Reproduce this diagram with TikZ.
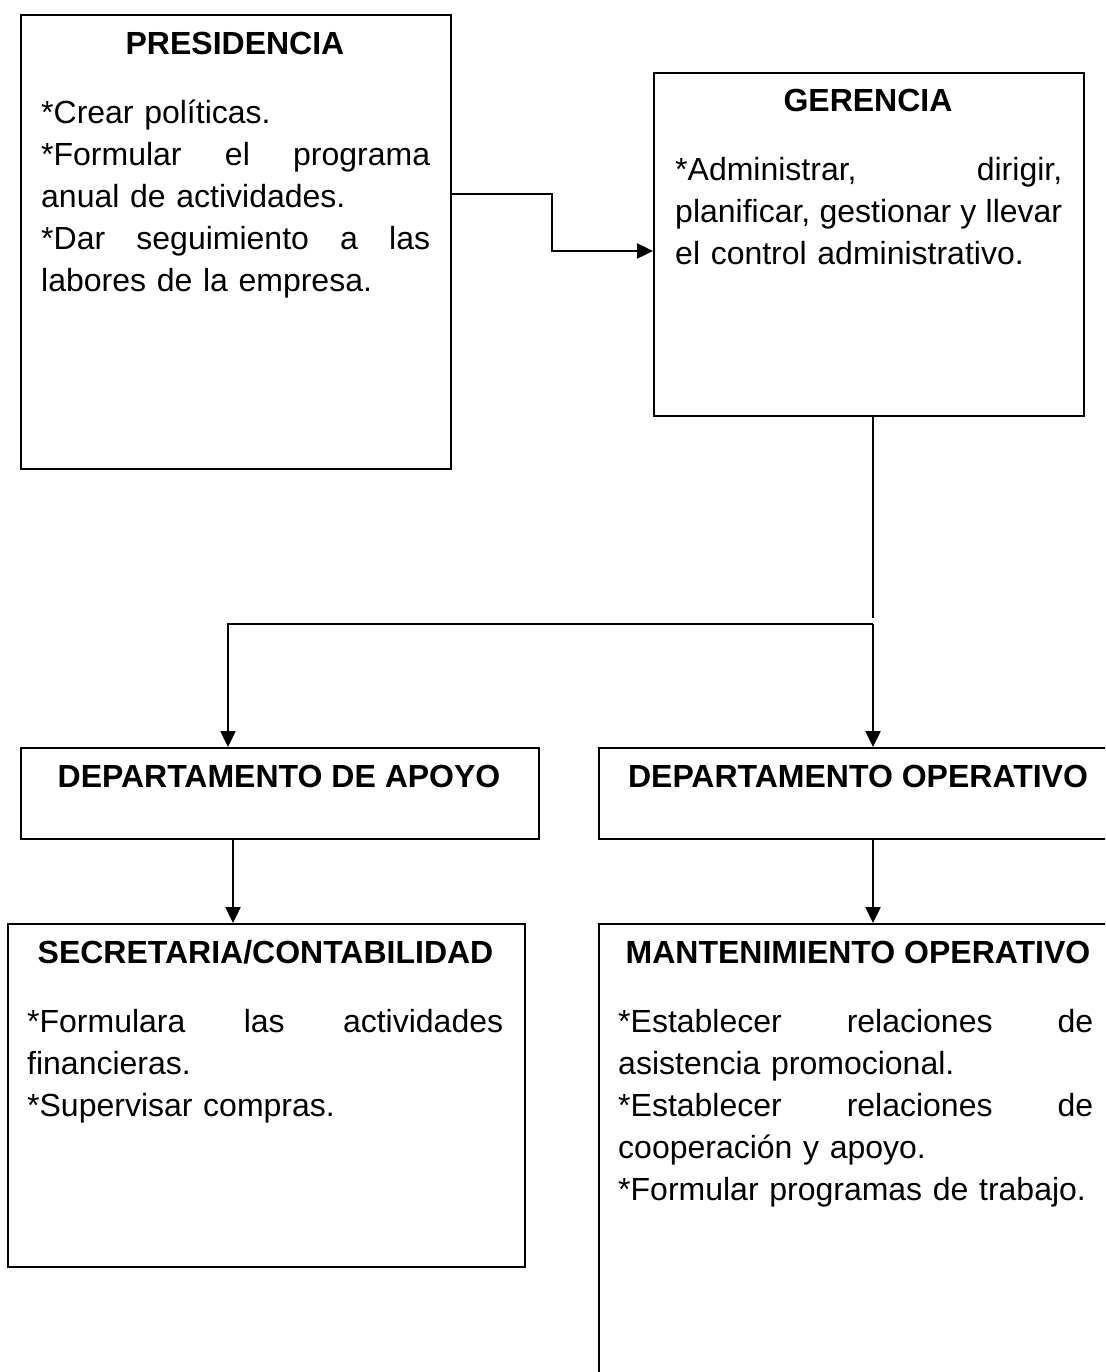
\documentclass[tikz,border=0pt]{standalone}
\usepackage{fontspec}
\setmainfont{Liberation Sans}
\usetikzlibrary{arrows.meta}
\newcommand{\jline}[1]{\leavevmode\hbox to \hsize{\spaceskip=0.278em plus 20em\relax #1}}
\begin{document}
\begin{tikzpicture}[x=1pt,y=-1pt,
  box/.style={draw, line width=2.1pt, rectangle, inner sep=0pt, anchor=north west},
  ttl/.style={font=\fontsize{32}{42}\selectfont\bfseries, anchor=base, inner sep=0pt},
  body/.style={font=\fontsize{32}{42}\selectfont, anchor=base west, inner sep=0pt, align=left},
  arr/.style={line width=2.4pt, -{Triangle[length=16pt,width=15pt]}},
]
\useasboundingbox (0,0) rectangle (1105,1372);
\clip (0,0) rectangle (1105,1372);

% boxes
\node[box, minimum width=430pt, minimum height=454pt] (pres) at (20,14) {};
\node[box, minimum width=430pt, minimum height=343pt] (ger) at (653,72) {};
\node[box, minimum width=518pt, minimum height=91pt] (apoyo) at (20,747) {};
\node[box, minimum width=520pt, minimum height=91pt] (oper) at (598,747) {};
\node[box, minimum width=517pt, minimum height=343pt] (sec) at (7,923) {};
\node[box, minimum width=520pt, minimum height=500pt] (mant) at (598,923) {};

% titles
\node[ttl] (prest) at (235,55) {PRESIDENCIA};
\node[ttl] (gert) at (868,112) {GERENCIA};
\node[ttl] (apoyot) at (279,787) {DEPARTAMENTO DE APOYO};
\node[ttl] (opert) at (858,787) {DEPARTAMENTO OPERATIVO};
\node[ttl] (sect) at (265.5,963) {SECRETARIA/CONTABILIDAD};
\node[ttl] (mantt) at (858,963) {MANTENIMIENTO OPERATIVO};

% bodies
\node[body, text width=389pt] (presb) at (41,124) {*Crear políticas.\\\relax
\jline{*Formular el programa}\\\relax
anual de actividades.\\\relax
\jline{*Dar seguimiento a las}\\\relax
labores de la empresa.};
\node[body, text width=387pt] (gerb) at (675,181) {\jline{*Administrar, dirigir,}\\\relax
\jline{planificar, gestionar y llevar}\\\relax
el control administrativo.};
\node[body, text width=476pt] (secb) at (27,1032) {\jline{*Formulara las actividades}\\\relax
financieras.\\\relax
*Supervisar compras.};
\node[body, text width=475pt] (mantb) at (618,1032) {\jline{*Establecer relaciones de}\\\relax
asistencia promocional.\\\relax
\jline{*Establecer relaciones de}\\\relax
cooperación y apoyo.\\\relax
*Formular programas de trabajo.};

% helper coordinates
\coordinate (py) at (0,194);
\coordinate (qy) at (0,251);
\coordinate (cx) at (873,0);
\coordinate (ax) at (228,0);
\coordinate (bx) at (233,0);
\coordinate (gend) at (873,618);
\coordinate (split) at (873,624);

% connectors
\draw[arr] (pres.east |- py) -| (552,251) -- (ger.west |- qy);
\draw[line width=1.4pt] (ger.south -| cx) -- (gend);
\draw[arr] (split) -| (apoyo.north -| ax);
\draw[arr] (split) -- (oper.north -| split);
\draw[arr] (apoyo.south -| bx) -- (sec.north -| bx);
\draw[arr] (oper.south -| cx) -- (mant.north -| cx);
\end{tikzpicture}
\end{document}
